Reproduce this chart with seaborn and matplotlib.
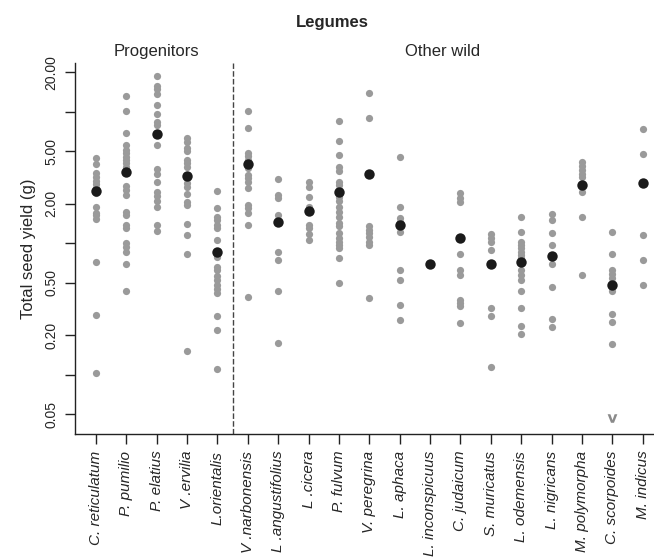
import pandas as pd
import matplotlib
matplotlib.use("Agg")
import matplotlib.pyplot as plt
from matplotlib.ticker import NullLocator
import seaborn as sns

# species in plot order (first 5 = progenitors, rest = other wild)
species = ["C. reticulatum", "P. pumilio", "P. elatius", "V .ervilia", "L.orientalis",
           "V .narbonensis", "L .angustifolius", "L .cicera", "P. fulvum", "V. peregrina",
           "L. aphaca", "L. inconspicuus", "C. judaicum", "S. muricatus", "L. odemensis",
           "L. nigricans", "M. polymorpha", "C. scorpoides", "M. indicus"]

# individual seed yields (g)
c_reticulatum = [4.48, 3.99, 3.41, 3.21, 2.99, 2.82, 2.62, 2.40, 1.90, 1.71, 1.64, 1.52, 0.716, 0.283, 0.102]
p_pumilio = [13.2, 10.1, 6.93, 5.59, 5.13, 4.84, 4.56, 4.31, 4.06, 3.83, 2.73, 2.54, 2.33, 1.74, 1.64,
             1.38, 1.30, 1.00, 0.94, 0.86, 0.70, 0.43]
p_elatius = [18.7, 15.7, 14.9, 13.7, 11.2, 9.64, 8.42, 7.94, 5.56, 3.69, 3.35, 2.94, 2.47, 2.29, 2.10,
             1.87, 1.38, 1.24]
v_ervilia = [6.29, 5.93, 5.28, 5.06, 4.31, 4.06, 3.83, 3.12, 2.89, 2.69, 2.36, 2.04, 1.95, 1.40, 1.16,
             0.83, 0.150]
l_orientalis = [2.50, 1.85, 1.59, 1.50, 1.38, 1.30, 1.06, 0.79, 0.66, 0.62, 0.56, 0.52, 0.48, 0.45, 0.42,
                0.28, 0.22, 0.11]
v_narbonensis = [10.1, 7.50, 4.89, 4.61, 4.31, 3.72, 3.31, 3.12, 2.94, 2.62, 1.95, 1.85, 1.71, 1.38, 0.39]
l_angustifolius = [3.08, 2.33, 2.20, 1.64, 0.85, 0.74, 0.43, 0.173]
l_cicera = [2.94, 2.69, 2.24, 1.90, 1.38, 1.30, 1.18, 1.06]
p_fulvum = [8.57, 6.03, 4.67, 3.83, 3.56, 2.91, 2.76, 2.54, 2.26, 2.09, 1.90, 1.74, 1.59, 1.42, 1.34,
            1.20, 1.09, 1.02, 0.97, 0.92, 0.77, 0.50]
v_peregrina = [13.9, 8.93, 1.34, 1.26, 1.20, 1.12, 1.02, 0.96, 0.38]
l_aphaca = [4.56, 1.88, 1.55, 1.46, 1.21, 0.62, 0.52, 0.34, 0.26]
l_inconspicuus = []
c_judaicum = [2.40, 2.22, 2.04, 0.83, 0.63, 0.57, 0.37, 0.35, 0.33, 0.246]
s_muricatus = [1.18, 1.09, 1.02, 0.88, 0.32, 0.28, 0.115]
l_odemensis = [1.58, 1.21, 1.02, 0.97, 0.92, 0.86, 0.81, 0.77, 0.62, 0.57, 0.52, 0.43, 0.32, 0.234, 0.205]
l_nigricans = [1.68, 1.49, 1.20, 0.97, 0.70, 0.46, 0.264, 0.231]
m_polymorpha = [4.18, 3.88, 3.61, 3.38, 3.18, 2.47, 1.57, 0.57]
c_scorpoides = [1.21, 0.82, 0.62, 0.58, 0.54, 0.43, 0.29, 0.25, 0.170]
m_indicus = [7.44, 4.75, 1.16, 0.74, 0.48]

# species averages (black dots)
means = [2.50, 3.49, 6.78, 3.27, 0.86, 3.99, 1.45, 1.76, 2.44, 3.35,
         1.38, 0.70, 1.09, 0.70, 0.72, 0.80, 2.76, 0.48, 2.89]

# value below the plotted range
below_species = ["C. scorpoides"]
below_value = [0.047]

seed_values = [c_reticulatum, p_pumilio, p_elatius, v_ervilia, l_orientalis, v_narbonensis,
               l_angustifolius, l_cicera, p_fulvum, v_peregrina, l_aphaca, l_inconspicuus,
               c_judaicum, s_muricatus, l_odemensis, l_nigricans, m_polymorpha, c_scorpoides,
               m_indicus]

rows = []
for sp, vals in zip(species, seed_values):
    for v in vals:
        rows.append({"species": sp, "seed": v})
df = pd.DataFrame(rows)
mean_df = pd.DataFrame({"species": species, "seed": means})
below_df = pd.DataFrame({"species": below_species, "seed": below_value})

sns.set_style("white")
plt.rcParams["font.family"] = ["Liberation Sans", "DejaVu Sans"]

fig = plt.figure(figsize=(6.54, 5.58), dpi=100)
ax = fig.add_axes([0.1142, 0.2222, 0.8858, 0.6654])
ax.set_yscale("log")

sns.stripplot(data=df, x="species", y="seed", order=species, jitter=False, color="#9a9a9a",
              size=5.2, linewidth=0, ax=ax, zorder=2)
sns.stripplot(data=mean_df, x="species", y="seed", order=species, jitter=False, color="#1a1a1a",
              size=7.5, linewidth=0, ax=ax, zorder=3)
sns.stripplot(data=below_df, x="species", y="seed", order=species, jitter=False, color="#8a8a8a",
              size=7, marker="$\\mathbf{v}$", linewidth=0, ax=ax, zorder=3)

ax.axvline(4.5, color="#444444", ls=(0, (4, 1.6)), lw=1.0)

ax.set_xlim(-0.70, 18.37)
ax.set_ylim(0.0353, 23.6)
ax.set_yticks([0.05, 0.1, 0.2, 0.5, 1, 2, 5, 10, 20])
ax.set_yticklabels(["0.05", "", "0.20", "0.50", "", "2.00", "5.00", "", "20.00"],
                   rotation=90, va="center", fontsize=10)
ax.yaxis.set_minor_locator(NullLocator())
ax.set_xticks(range(len(species)))
ax.set_xticklabels(species, rotation=90, fontsize=11, style="italic")

ax.tick_params(axis="both", length=7, width=1, color="#222222", pad=5, left=True, bottom=True)
for side in ["top", "right"]:
    ax.spines[side].set_visible(False)
for side in ["left", "bottom"]:
    ax.spines[side].set_color("#222222")
    ax.spines[side].set_linewidth(1)

ax.set_xlabel("")
ax.set_ylabel("Total seed yield (g)", fontsize=12, labelpad=6)
ax.grid(False)

ax.text(2, 1.029, "Progenitors", transform=ax.get_xaxis_transform(), ha="center", va="center", fontsize=12)
ax.text(11.4, 1.029, "Other wild", transform=ax.get_xaxis_transform(), ha="center", va="center", fontsize=12)
fig.text(332 / 654, 1 - 22 / 558, "Legumes", ha="center", va="center", fontsize=12, fontweight="bold")

fig.savefig("out.png", dpi=100)
